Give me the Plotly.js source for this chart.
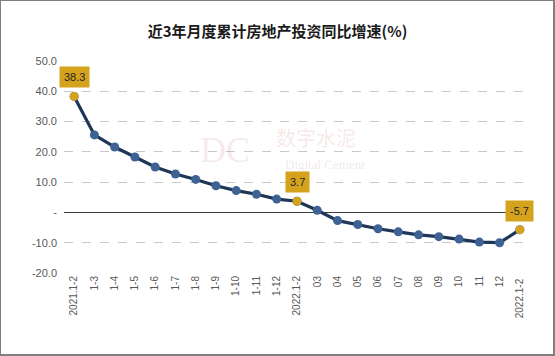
<!DOCTYPE html>
<html>
<head>
<meta charset="utf-8">
<script src="https://cdn.plot.ly/plotly-3.0.1.min.js"></script>
<style>
html,body{margin:0;padding:0;background:#fff;}
#wrap{position:relative;width:555px;height:356px;box-sizing:border-box;border-style:solid;border-color:#7f7f7f;border-width:1px 2px 2px 1px;overflow:hidden;}
#chart{position:absolute;left:-1px;top:-1px;width:555px;height:356px;}
</style>
</head>
<body>
<div id="wrap"><div id="chart"></div></div>
<script>
const categories = ["2021.1-2","1-3","1-4","1-5","1-6","1-7","1-8","1-9","1-10","1-11","1-12",
  "2022.1-2","03","04","05","06","07","08","09","10","11","12","2022.1-2 "];
const growth = [38.3,25.6,21.6,18.3,15.0,12.7,10.9,8.8,7.2,6.0,4.4,
  3.7,0.7,-2.7,-4.0,-5.4,-6.4,-7.4,-8.0,-8.8,-9.8,-10.0,-5.7];
const highlightIdx = [0,11,22];
const yTickVals = [-20,-10,0,10,20,30,40,50];
const yTickText = ["-20.0","-10.0","-","10.0","20.0","30.0","40.0","50.0"];

const navy = "#1f3658";
const blue = "#3d6293";
const gold = "#d4a21d";

const hx = highlightIdx.map(i => categories[i]);
const hy = highlightIdx.map(i => growth[i]);

const traces = [
  {x: categories, y: growth, type: "scatter", mode: "lines+markers",
   line: {color: navy, width: 3.2},
   marker: {color: blue, size: 9, line: {width: 0}},
   hoverinfo: "skip", showlegend: false},
  {x: hx, y: hy, type: "scatter", mode: "markers",
   marker: {color: gold, size: 9},
   hoverinfo: "skip", showlegend: false}
];

const annotations = highlightIdx.map(i => ({
  x: categories[i], y: growth[i], xref: "x", yref: "y",
  text: growth[i].toFixed(1), showarrow: true, arrowcolor: "rgba(0,0,0,0)",
  ax: 0, ay: -19, bgcolor: gold, borderpad: 4,
  font: {family: "Liberation Sans, Arial, sans-serif", size: 11, color: "#262626"}
}));

annotations.push(
  {xref: "paper", yref: "paper", x: 0.345, y: 0.58, text: "DC", showarrow: false,
   font: {family: "Liberation Serif, serif", size: 36, color: "rgba(200,120,120,0.16)"}},
  {xref: "paper", yref: "paper", x: 0.54, y: 0.64, text: "数字水泥", showarrow: false,
   font: {family: "Noto Sans CJK SC, sans-serif", size: 20, color: "rgba(210,120,120,0.18)"}},
  {xref: "paper", yref: "paper", x: 0.56, y: 0.51, text: "Digital Cement", showarrow: false,
   font: {family: "Liberation Serif, serif", size: 13, color: "rgba(180,150,150,0.22)"}}
);

const layout = {
  width: 555, height: 356,
  paper_bgcolor: "#ffffff", plot_bgcolor: "#ffffff",
  margin: {l: 64, r: 25, t: 61, b: 83},
  title: {text: "<b>近3年月度累计房地产投资同比增速(%)</b>", x: 0.5, xanchor: "center", y: 0.925,
          font: {family: "Noto Sans CJK SC, sans-serif", size: 15, color: "#1a1a1a"}},
  xaxis: {type: "category", range: [-0.5, categories.length - 0.5], tickangle: -90,
          showgrid: false, zeroline: false, showline: false,
          automargin: false,
          ticks: "", tickfont: {family: "Liberation Sans, Arial, sans-serif", size: 10, color: "#595959"},
          fixedrange: true},
  yaxis: {range: [-20, 50], tickvals: yTickVals, ticktext: yTickText, showgrid: true,
          automargin: false,
          gridcolor: "#c8c8c8", griddash: "dash", gridwidth: 1,
          zeroline: true, zerolinecolor: "#404040", zerolinewidth: 1,
          showline: false, ticks: "", ticklabelstandoff: 6,
          tickfont: {family: "Liberation Sans, Arial, sans-serif", size: 11, color: "#595959"},
          fixedrange: true},
  annotations: annotations
};

Plotly.newPlot("chart", traces, layout, {displayModeBar: false, staticPlot: true});
</script>
</body>
</html>
